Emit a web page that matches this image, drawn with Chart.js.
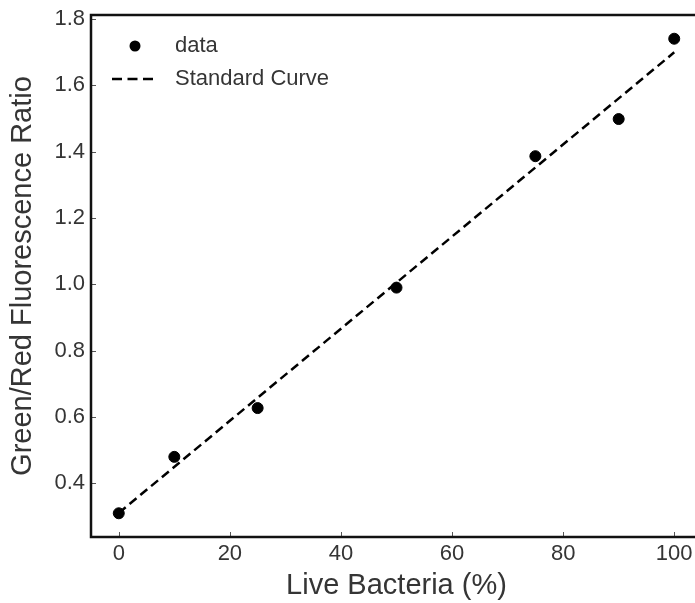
<!DOCTYPE html>
<html>
<head>
<meta charset="utf-8">
<script src="https://cdn.jsdelivr.net/npm/chart.js@4"></script>
<style>
  html, body { margin: 0; padding: 0; background: #fff; overflow: hidden; }
  canvas { display: block; }
</style>
</head>
<body>
<canvas id="chartCurve" width="720" height="603"></canvas>
<script>
// data
const liveBacteria = [0, 10, 25, 50, 75, 90, 100];
const greenRedRatio = [0.31, 0.48, 0.627, 0.99, 1.386, 1.498, 1.74];
const curveX = [0, 100];
const curveY = [0.311, 1.699];

const xTicks = [0, 20, 40, 60, 80, 100];
const yTicks = [0.4, 0.6, 0.8, 1.0, 1.2, 1.4, 1.6, 1.8];

const FONT = '"Liberation Sans", Arial, sans-serif';
const TEXT = '#353535';

// frame round the plot + inward ticks (left / bottom only)
const framePlugin = {
  id: 'frame',
  afterDatasetsDraw(chart) {
    const { ctx, chartArea: a, scales } = chart;
    ctx.save();
    ctx.strokeStyle = '#555';
    ctx.lineWidth = 1;
    ctx.beginPath();
    scales.x.ticks.forEach(t => {
      const px = Math.round(scales.x.getPixelForValue(t.value)) + 0.5;
      ctx.moveTo(px, a.bottom);
      ctx.lineTo(px, a.bottom - 5);
    });
    scales.y.ticks.forEach(t => {
      const py = Math.round(scales.y.getPixelForValue(t.value)) + 0.5;
      ctx.moveTo(a.left, py);
      ctx.lineTo(a.left + 5, py);
    });
    ctx.stroke();
    ctx.strokeStyle = '#111';
    ctx.lineWidth = 2.5;
    ctx.strokeRect(a.left, a.top, a.right - a.left, a.bottom - a.top);
    ctx.restore();
  }
};

// legend drawn in the top-left corner of the plot
const legendPlugin = {
  id: 'cornerLegend',
  afterDraw(chart) {
    const { ctx, chartArea: a } = chart;
    const ds = chart.data.datasets;
    ctx.save();
    ctx.font = '22px ' + FONT;
    ctx.textBaseline = 'middle';
    // data marker
    let y = a.top + 31;
    ctx.fillStyle = '#000';
    ctx.beginPath();
    ctx.arc(a.left + 44, y, 5.5, 0, Math.PI * 2);
    ctx.fill();
    ctx.fillStyle = TEXT;
    ctx.fillText(ds[0].label, a.left + 84, y);
    // dashed line
    y = a.top + 64;
    ctx.strokeStyle = '#000';
    ctx.lineWidth = 2.5;
    ctx.setLineDash([10, 5.5]);
    ctx.beginPath();
    ctx.moveTo(a.left + 21, y);
    ctx.lineTo(a.left + 66, y);
    ctx.stroke();
    ctx.setLineDash([]);
    ctx.fillText(ds[1].label, a.left + 84, y);
    ctx.restore();
  }
};

new Chart(document.getElementById('chartCurve'), {
  type: 'scatter',
  data: {
    datasets: [
      {
        label: 'data',
        data: liveBacteria.map((x, i) => ({ x, y: greenRedRatio[i] })),
        backgroundColor: '#000',
        borderColor: '#000',
        pointRadius: 5.5,
        pointHoverRadius: 5.5,
        order: 1
      },
      {
        label: 'Standard Curve',
        data: curveX.map((x, i) => ({ x, y: curveY[i] })),
        showLine: true,
        borderColor: '#000',
        borderWidth: 2.5,
        borderDash: [9, 5],
        pointRadius: 0,
        order: 2
      }
    ]
  },
  options: {
    responsive: false,
    animation: false,
    devicePixelRatio: 1,
    layout: { padding: { left: 0, top: 15, right: 18, bottom: 0 } },
    plugins: { legend: { display: false }, tooltip: { enabled: false } },
    scales: {
      x: {
        type: 'linear',
        min: -5,
        max: 105,
        grid: { display: false, drawTicks: false },
        border: { display: false },
        afterBuildTicks: s => { s.ticks = xTicks.map(v => ({ value: v })); },
        afterFit: s => { s.height = 66; s.paddingLeft = 0; s.paddingRight = 0; },
        ticks: {
          padding: 4,
          color: TEXT,
          font: { family: FONT, size: 22 },
          callback: v => String(v)
        },
        title: {
          display: true,
          text: 'Live Bacteria (%)',
          color: TEXT,
          font: { family: FONT, size: 29 },
          padding: { top: 0, bottom: 0 }
        }
      },
      y: {
        type: 'linear',
        min: 0.2385,
        max: 1.8115,
        grid: { display: false, drawTicks: false },
        border: { display: false },
        afterBuildTicks: s => { s.ticks = yTicks.map(v => ({ value: v })); },
        afterFit: s => { s.width = 91; s.paddingTop = 0; s.paddingBottom = 0; },
        ticks: {
          padding: 6,
          color: TEXT,
          font: { family: FONT, size: 22 },
          callback: v => Number(v).toFixed(1)
        },
        title: {
          display: true,
          text: 'Green/Red Fluorescence Ratio',
          color: TEXT,
          font: { family: FONT, size: 29 },
          padding: { top: 6, bottom: 0 }
        }
      }
    }
  },
  plugins: [framePlugin, legendPlugin]
});
</script>
</body>
</html>
